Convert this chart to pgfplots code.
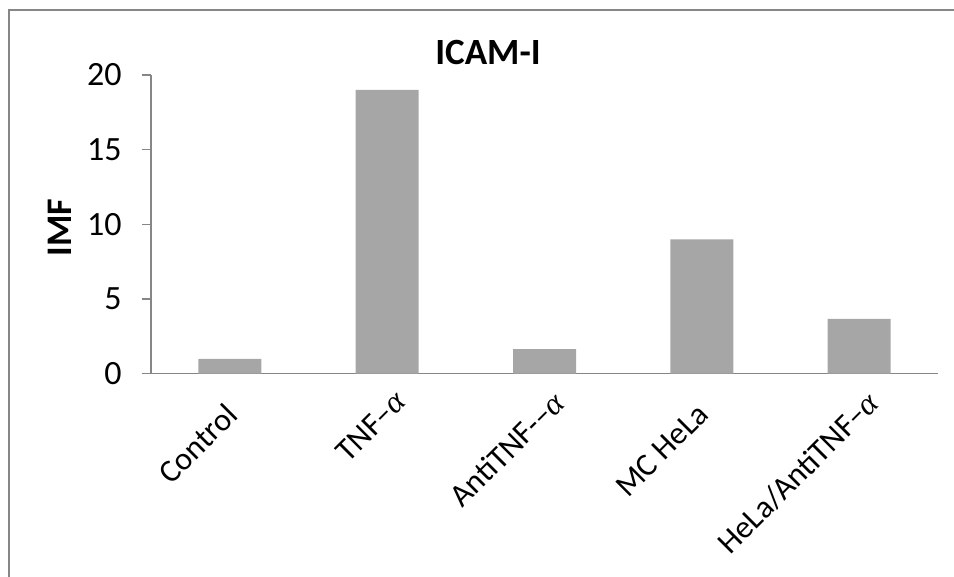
\documentclass[border=0pt]{standalone}
\usepackage{fontspec}
\setmainfont{Carlito}
\newfontfamily\alphafont{Liberation Serif}
% trailing alpha; the negative kern lets it run past the label anchor
\newcommand{\al}{{\alphafont\itshape α}\kern-17bp}
\usepackage{pgfplots}
\pgfplotsset{compat=1.18}
\definecolor{axisgray}{HTML}{868686}
\definecolor{bargray}{HTML}{A6A6A6}

\begin{document}
\begin{tikzpicture}
\useasboundingbox (0bp,0bp) rectangle (954bp,577bp);
% chart area frame (left and top edges)
\draw[axisgray, line width=1.6bp] (9bp,-5bp) -- (9bp,567bp) -- (965bp,567bp);
\begin{axis}[
  at={(151.3bp,203.3bp)}, anchor=south west,
  scale only axis, width=786.4bp, height=298.7bp,
  xmin=-0.5, xmax=4.5, ymin=0, ymax=20,
  axis x line*=bottom, axis y line*=left,
  axis line style={axisgray, line width=1.6bp},
  ybar, bar width=63bp,
  xtick={0,1,2,3,4},
  xticklabels={Control, TNF--\al, AntiTNF-{}--\al, MC~HeLa, HeLa/AntiTNF--\al},
  x tick style={draw=none},
  ytick={0,5,10,15,20},
  y tick style={axisgray, line width=1.3bp},
  tick align=outside, major tick length=9.6bp,
  /pgf/number format/assume math mode=true,
  yticklabel style={font=\fontsize{34bp}{40bp}\selectfont, anchor=east, inner sep=0pt, xshift=-20bp},
  xticklabel style={font=\fontsize{32bp}{38bp}\selectfont, inner sep=0pt, xshift=-6bp, yshift=-18bp, rotate=45, anchor=north east},
  ylabel={IMF},
  ylabel style={font=\bfseries\fontsize{36bp}{42bp}\selectfont, at={(axis description cs:-0.1008,0.49)}, anchor=south, inner sep=0pt},
  clip=false,
]
\addplot[fill=bargray, draw=none] coordinates {(0,1.0) (1,19.0) (2,1.65) (3,9.0) (4,3.67)};
\end{axis}
\node[font=\bfseries\fontsize{37bp}{44bp}\selectfont, anchor=base] at (488bp,512bp) {ICAM-I};
\end{tikzpicture}
\end{document}
